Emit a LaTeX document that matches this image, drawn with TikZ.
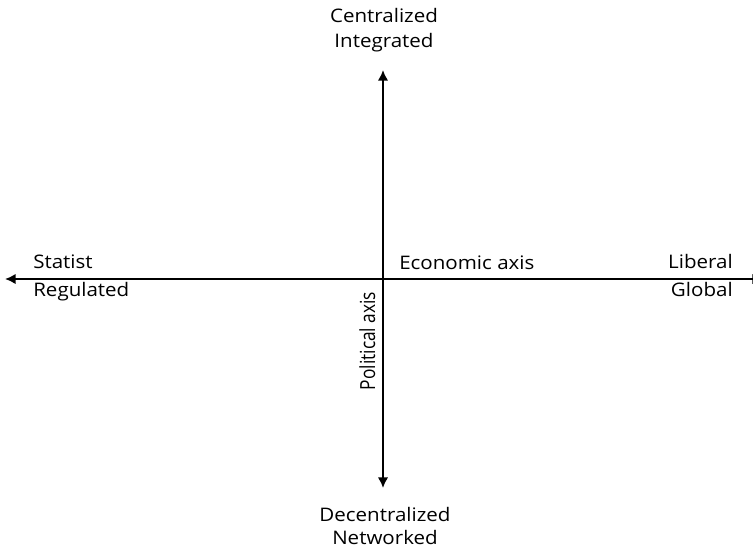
\documentclass[tikz,border=0pt]{standalone}
\usepackage{fontspec}
\setmainfont{Open Sans}
\usetikzlibrary{arrows.meta, positioning}

\begin{document}
\begin{tikzpicture}[x=0.75pt, y=-0.75pt,
    axis/.style={line width=2pt, -{Latex[length=8pt, width=8pt]}},
    lbl/.style={font=\fontsize{14}{16}\selectfont, xscale=1.1, inner sep=0pt, anchor=base},
    vlbl/.style={font=\fontsize{13}{15}\selectfont, xscale=1.2, rotate=90, inner sep=0pt, anchor=base}]

    \useasboundingbox (0,0) rectangle (753,551);

    % axes
    \coordinate (west) at (5,279);
    \coordinate (east) at (763,279);
    \coordinate (north) at (383,70);
    \coordinate (south) at (383,488);
    \coordinate (origin) at (383,279);

    \draw[axis] (origin) -- (west);
    \draw[axis] (origin) -- (east);
    \draw[axis] (origin) -- (north);
    \draw[axis] (origin) -- (south);

    % ends of the axes
    \node[lbl] (centr) at (384,22) {Centralized};
    \node[lbl] (integr) at (384,47) {Integrated};
    \node[lbl] (decentr) at (385,521) {Decentralized};
    \node[lbl] (netw) at (385,544) {Networked};

    \node[lbl, anchor=base west] (statist) at (33,268) {Statist};
    \node[lbl, anchor=base west] (regul) at (33,296) {Regulated};
    \node[lbl, anchor=base east] (liberal) at (733,268) {Liberal};
    \node[lbl, anchor=base east] (global) at (733,296) {Global};

    % axis names
    \node[lbl, anchor=base west] (econ) at (399,269) {Economic axis};
    \node[vlbl] (polit) at (375,341) {Political axis};

\end{tikzpicture}
\end{document}
